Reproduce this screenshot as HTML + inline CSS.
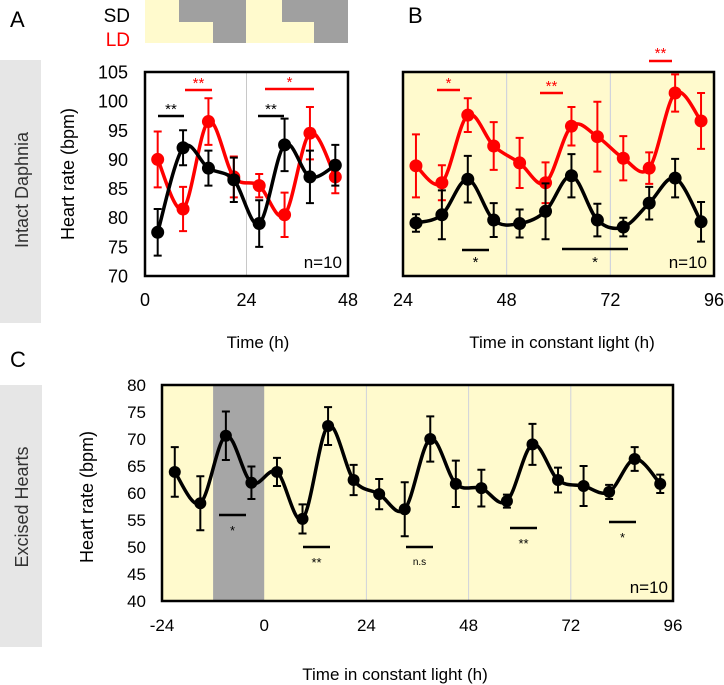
<!DOCTYPE html>
<html><head><meta charset="utf-8"><style>
html,body{margin:0;padding:0;background:#fff;}
svg{display:block;font-family:"Liberation Sans",sans-serif;}
</style></head><body>
<svg id="fig" width="724" height="685" viewBox="0 0 724 685" xmlns="http://www.w3.org/2000/svg">
<rect x="0" y="60" width="41" height="263" fill="#e6e6e6"/>
<text x="0" y="0" transform="translate(28,190) rotate(-90)" text-anchor="middle" font-size="18" fill="#333">Intact Daphnia</text>
<rect x="0" y="385" width="42" height="262" fill="#e6e6e6"/>
<text x="0" y="0" transform="translate(28,507) rotate(-90)" text-anchor="middle" font-size="18" fill="#333">Excised Hearts</text>
<text x="10" y="27" font-size="22">A</text>
<text x="408" y="23" font-size="22">B</text>
<text x="10" y="367" font-size="22">C</text>
<g>
<rect x="145" y="0" width="203" height="43" fill="#fffacd"/>
<rect x="179" y="0" width="67" height="22" fill="#a0a0a0"/>
<rect x="213" y="22" width="33" height="21" fill="#a0a0a0"/>
<rect x="282" y="0" width="66" height="22" fill="#a0a0a0"/>
<rect x="314" y="22" width="34" height="21" fill="#a0a0a0"/>
</g>
<text x="130" y="22" text-anchor="end" font-size="19">SD</text>
<text x="130" y="46" text-anchor="end" font-size="19" fill="#ff0000">LD</text>
<g id="layer"></g>
</svg>
<script>
// Panel A data
const aTimes = [3, 9, 15, 21, 27, 33, 39, 45];
const aSD = [77.5, 92, 88.5, 86.5, 79, 92.5, 87, 89];
const aSDerr = [4, 3, 3, 3.8, 4, 4.5, 4.5, 3.5];
const aLD = [90, 81.5, 96.5, 87, 85.5, 80.5, 94.5, 87];
const aLDerr = [4.8, 3.8, 4, 3.5, 2, 3.8, 4.5, 2.8];
const aYTicks = [70, 75, 80, 85, 90, 95, 100, 105];
const aXTicks = [0, 24, 48];
// Panel B data
const bTimes = [27, 33, 39, 45, 51, 57, 63, 69, 75, 81, 87, 93];
const bSD = [79.1, 80.5, 86.6, 79.6, 79, 81.1, 87.2, 79.6, 78.4, 82.5, 86.8, 79.3];
const bSDerr = [1.5, 4.2, 4, 2.9, 2.4, 4.8, 3.7, 2.8, 1.6, 2.8, 3.3, 3.4];
const bLD = [88.9, 86, 97.6, 92.3, 89.4, 86, 95.7, 93.9, 90.2, 88.5, 101.4, 96.6];
const bLDerr = [5.4, 3, 2.9, 4.1, 4.3, 3.5, 3.3, 6, 3.8, 2.7, 3.2, 4.8];
const bXTicks = [24, 48, 72, 96];
// Panel C data
const cTimes = [-21, -15, -9, -3, 3, 9, 15, 21, 27, 33, 39, 45, 51, 57, 63, 69, 75, 81, 87, 93];
const cVals = [63.9, 58.1, 70.6, 61.9, 63.9, 55.2, 72.4, 62.4, 59.8, 57, 70, 61.7, 60.9, 58.5, 69, 62.4, 61.3, 60.2, 66.3, 61.7];
const cErr = [4.6, 5, 4.5, 3, 2.6, 2.7, 3.5, 2.8, 2.8, 5, 4.2, 4.3, 3.4, 1.2, 3.8, 2.3, 3.7, 1.3, 2.2, 1.7];
const cYTicks = [40, 45, 50, 55, 60, 65, 70, 75, 80];
const cXTicks = [-24, 0, 24, 48, 72, 96];

const NS = "http://www.w3.org/2000/svg";
const layer = document.getElementById('layer');
function mk(tag, attrs, parent) {
  const e = document.createElementNS(NS, tag);
  for (const k in attrs) e.setAttribute(k, attrs[k]);
  (parent || layer).appendChild(e);
  return e;
}
function spline(pts) {
  let d = "M" + pts[0][0] + "," + pts[0][1];
  for (let i = 0; i < pts.length - 1; i++) {
    const p0 = pts[i - 1] || pts[i], p1 = pts[i], p2 = pts[i + 1], p3 = pts[i + 2] || pts[i + 1];
    const c1x = p1[0] + (p2[0] - p0[0]) / 6, c1y = p1[1] + (p2[1] - p0[1]) / 6;
    const c2x = p2[0] - (p3[0] - p1[0]) / 6, c2y = p2[1] - (p3[1] - p1[1]) / 6;
    d += " C" + c1x + "," + c1y + " " + c2x + "," + c2y + " " + p2[0] + "," + p2[1];
  }
  return d;
}
function series(xs, ys, errs, color, X, Y, name, r) {
  const g = mk('g', {});
  
  
  xs.forEach((t, i) => {
    const x = X(t), y1 = Y(ys[i] + errs[i]), y2 = Y(ys[i] - errs[i]);
    const eb = mk('path', {d: `M${x},${y1}V${y2}M${x-4},${y1}H${x+4}M${x-4},${y2}H${x+4}`, stroke: color, 'stroke-width': 2, fill: 'none'}, g);
    
    
  });
  const ln = mk('path', {d: spline(xs.map((t, i) => [X(t), Y(ys[i])])), stroke: color, 'stroke-width': 3.5, fill: 'none'}, g);
  
  
  xs.forEach((t, i) => {
    const c = mk('circle', {cx: X(t), cy: Y(ys[i]), r: r, fill: color}, g);
    
    
  });
}
function txt(x, y, s, attrs, name) {
  const t = mk('text', Object.assign({x: x, y: y}, attrs));
  t.textContent = s;
  
  
  return t;
}
function sig(x1, x2, y, label, color, ty, fs, name) {
  const l = mk('line', {x1: x1, x2: x2, y1: y, y2: y, stroke: color, 'stroke-width': 2.5});
  
  
  txt((x1 + x2) / 2, ty, label, {'text-anchor': 'middle', 'font-size': fs, fill: color}, name + '-label');
}

// ---- Panel A
const AX = t => 145 + (t - 0) * (203 / 48);
const AY = v => 276 - (v - 70) * (204 / 35);
let r = mk('rect', {x: 145, y: 72, width: 203, height: 204, fill: '#fff'});
 
let gl = mk('line', {x1: AX(24), x2: AX(24), y1: 72, y2: 276, stroke: '#c8c8c8', 'stroke-width': 1});
 
series(aTimes, aLD, aLDerr, '#ff0000', AX, AY, 'panel-a-ld-series', 6.5);
series(aTimes, aSD, aSDerr, '#000', AX, AY, 'panel-a-sd-series', 6.5);
r = mk('rect', {x: 145, y: 72, width: 203, height: 204, fill: 'none', stroke: '#000', 'stroke-width': 2.5});
 
aYTicks.forEach(v => txt(128, AY(v) + 6.5, v, {'text-anchor': 'end', 'font-size': 18}, 'panel-a-y-tick'));
aXTicks.forEach(v => txt(AX(v), 306, v, {'text-anchor': 'middle', 'font-size': 18}, 'panel-a-x-tick'));
txt(0, 0, 'Heart rate (bpm)', {'text-anchor': 'middle', 'font-size': 18, transform: 'translate(74,174) rotate(-90)'}, 'panel-a-y-title');
txt(258, 348, 'Time (h)', {'text-anchor': 'middle', 'font-size': 17}, 'panel-a-x-title');
txt(342, 268, 'n=10', {'text-anchor': 'end', 'font-size': 17}, 'panel-a-n-label');
sig(158, 184, 116, '**', '#000', 114, 15, 'panel-a-sig-sd-1');
sig(185, 212, 90, '**', '#ff0000', 88, 15, 'panel-a-sig-ld-1');
sig(258, 284, 116, '**', '#000', 114, 15, 'panel-a-sig-sd-2');
sig(265, 314, 89, '*', '#ff0000', 87, 15, 'panel-a-sig-ld-2');

// ---- Panel B
const BX = t => 403 + (t - 24) * (311 / 72);
const BY = AY;
r = mk('rect', {x: 403, y: 72, width: 311, height: 204, fill: '#fffacd'});
 
[48, 72].forEach(t => {
  const g2 = mk('line', {x1: BX(t), x2: BX(t), y1: 72, y2: 276, stroke: '#c8cce0', 'stroke-width': 1});
   
});
series(bTimes, bLD, bLDerr, '#ff0000', BX, BY, 'panel-b-ld-series', 6.5);
series(bTimes, bSD, bSDerr, '#000', BX, BY, 'panel-b-sd-series', 6.5);
r = mk('rect', {x: 403, y: 72, width: 311, height: 204, fill: 'none', stroke: '#000', 'stroke-width': 2.5});
 
bXTicks.forEach(v => txt(BX(v), 306, v, {'text-anchor': 'middle', 'font-size': 18}, 'panel-b-x-tick'));
txt(562, 348, 'Time in constant light (h)', {'text-anchor': 'middle', 'font-size': 17}, 'panel-b-x-title');
txt(707, 268, 'n=10', {'text-anchor': 'end', 'font-size': 17}, 'panel-b-n-label');
sig(437, 460, 90, '*', '#ff0000', 88, 15, 'panel-b-sig-ld-1');
sig(540, 563, 93, '**', '#ff0000', 91, 15, 'panel-b-sig-ld-2');
sig(649, 672, 61, '**', '#ff0000', 58, 15, 'panel-b-sig-ld-3');
sig(462, 489, 250, '*', '#000', 267, 15, 'panel-b-sig-sd-1');
sig(562, 628, 249, '*', '#000', 267, 15, 'panel-b-sig-sd-2');

// ---- Panel C
const CX = t => 162 + (t + 24) * (511 / 120);
const CY = v => 601 - (v - 40) * (216 / 40);
r = mk('rect', {x: 162, y: 385, width: 511, height: 216, fill: '#fffacd'});
 
r = mk('rect', {x: CX(-12), y: 385, width: CX(0) - CX(-12), height: 216, fill: '#a6a6a6'});
 
[24, 48, 72].forEach(t => {
  const g2 = mk('line', {x1: CX(t), x2: CX(t), y1: 385, y2: 601, stroke: '#d0d2dc', 'stroke-width': 1});
   
});
series(cTimes, cVals, cErr, '#000', CX, CY, 'panel-c-series', 6);
r = mk('rect', {x: 162, y: 385, width: 511, height: 216, fill: 'none', stroke: '#000', 'stroke-width': 2.5});
 
cYTicks.forEach(v => txt(146, CY(v) + 6, v, {'text-anchor': 'end', 'font-size': 17}, 'panel-c-y-tick'));
cXTicks.forEach(v => txt(CX(v), 631, v, {'text-anchor': 'middle', 'font-size': 17}, 'panel-c-x-tick'));
txt(0, 0, 'Heart rate (bpm)', {'text-anchor': 'middle', 'font-size': 18, transform: 'translate(93,497) rotate(-90)'}, 'panel-c-y-title');
txt(395, 680, 'Time in constant light (h)', {'text-anchor': 'middle', 'font-size': 17}, 'panel-c-x-title');
txt(668, 593, 'n=10', {'text-anchor': 'end', 'font-size': 17}, 'panel-c-n-label');
sig(219, 246, 515, '*', '#000', 535, 13, 'panel-c-sig-1');
sig(303, 330, 547, '**', '#000', 567, 13, 'panel-c-sig-2');
sig(406, 433, 547, 'n.s', '#000', 565, 10, 'panel-c-sig-3');
sig(510, 537, 528, '**', '#000', 548, 13, 'panel-c-sig-4');
sig(609, 636, 522, '*', '#000', 542, 13, 'panel-c-sig-5');
</script>
</body></html>
